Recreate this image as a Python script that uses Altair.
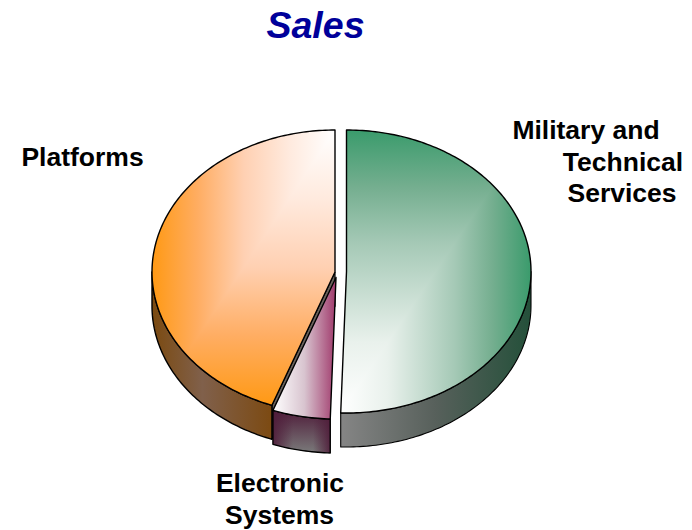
import math
import altair as alt
import pandas as pd

# Sales breakdown, percent of total, clockwise from twelve o'clock
segments = ["Military and Technical Services", "Electronic Systems", "Platforms"]
shares = [50.5, 5.1, 44.4]

title_text = ["Sales"]
label_lines = ["Platforms", "Military and", "Technical", "Services", "Electronic", "Systems"]

# Pie geometry in chart pixels
DEPTH = 34
GEOM = {
    "Military and Technical Services": dict(cx=346.5, cy=271.5, rx=184.5, ry=141.5),
    "Electronic Systems": dict(cx=336.0, cy=277.5, rx=183, ry=141.5),
    "Platforms": dict(cx=335.0, cy=272.0, rx=183, ry=142.0),
}

# White-to-colour ramps for the top faces
GREEN_RAMP = [(0, "#ffffff"), (0.25, "#e9f1ec"), (0.6, "#a5c9b6"), (0.8, "#74ae8f"), (1, "#3a9b6c")]
ORANGE_RAMP = [(0, "#ffffff"), (0.25, "#ffeade"), (0.5, "#ffd0b2"), (0.75, "#ffad62"), (1, "#ff9914")]
MAROON_RAMP = [(0, "#ffffff"), (0.5, "#d8c4cf"), (1, "#a03a6c")]


def rim(g, a0, a1, dy=0.0):
    n = max(2, int(abs(a1 - a0)) + 1)
    pts = []
    for i in range(n + 1):
        a = math.radians(a0 + (a1 - a0) * i / n)
        pts.append([g["cx"] + g["rx"] * math.sin(a), g["cy"] - g["ry"] * math.cos(a) + dy])
    return pts


def clip(poly, p, q, keep_left):
    """Clip a polygon by the half-plane on one side of the line p-q."""
    def side_of(pt):
        s = (q[0] - p[0]) * (pt[1] - p[1]) - (q[1] - p[1]) * (pt[0] - p[0])
        return s if keep_left else -s

    out = []
    for i, a in enumerate(poly):
        b = poly[(i + 1) % len(poly)]
        sa, sb = side_of(a), side_of(b)
        if sa >= 0:
            out.append(a)
        if sa * sb < 0:
            t = sa / (sa - sb)
            out.append([a[0] + (b[0] - a[0]) * t, a[1] + (b[1] - a[1]) * t])
    return out


def feature(poly):
    ring = [list(pt) for pt in poly] + [list(poly[0])]
    return {"type": "Feature", "properties": {}, "geometry": {"type": "Polygon", "coordinates": [ring]}}


def bbox(poly):
    xs, ys = [p[0] for p in poly], [p[1] for p in poly]
    return min(xs), min(ys), max(xs), max(ys)


def shape(poly, **mark):
    return alt.Chart(alt.Data(values=[feature(poly)])).mark_geoshape(**mark)


def grad(stops, x1, y1, x2, y2):
    return alt.LinearGradient(
        gradient="linear", x1=x1, y1=y1, x2=x2, y2=y2,
        stops=[alt.GradientStop(offset=o, color=c) for o, c in stops],
    )


def corner_fill(poly, corner, far, stops):
    """Rectangular ramp spreading out from one corner of the box corner-far,
    painted as two pieces that meet on the box diagonal."""
    layers = []
    # The first piece runs slightly past the diagonal so no seam shows
    overlap = -2.0 if far[0] > corner[0] else 2.0
    for keep_left, horizontal, nudge in ((True, True, overlap), (False, False, 0.0)):
        p = [corner[0], corner[1] + nudge]
        q = [far[0], far[1] + nudge]
        piece = clip(poly, p, q, keep_left)
        x0, y0, x1, y1 = bbox(piece)
        if horizontal:
            a = (corner[0] - x0) / (x1 - x0)
            b = (far[0] - x0) / (x1 - x0)
            fill = grad(stops, a, 0, b, 0)
        else:
            a = (corner[1] - y0) / (y1 - y0)
            b = (far[1] - y0) / (y1 - y0)
            fill = grad(stops, 0, a, 0, b)
        layers.append(shape(piece, fill=fill, strokeWidth=0))
    return layers


# Slice angles from the shares
angles, start = {}, 0.0
for name, s in zip(segments, shares):
    angles[name] = (start, start + s * 3.6)
    start += s * 3.6

mil, ele, pla = segments
gm, ge, gp = GEOM[mil], GEOM[ele], GEOM[pla]

top_mil = [[gm["cx"], gm["cy"]]] + rim(gm, *angles[mil])
top_ele = [[ge["cx"], ge["cy"]]] + rim(ge, *angles[ele])
top_pla = [[gp["cx"], gp["cy"]]] + rim(gp, *angles[pla])


def side(g, a0, a1):
    return rim(g, a0, a1) + rim(g, a1, a0, DEPTH)


side_mil = side(gm, 90, angles[mil][1])
side_ele = side(ge, *angles[ele])
side_pla = side(gp, angles[pla][0], 270)

rim_end = rim(gp, angles[pla][0], angles[pla][0])[0]
cut_pla = [[gp["cx"], gp["cy"]], rim_end, [rim_end[0], rim_end[1] + DEPTH], [gp["cx"], gp["cy"] + DEPTH]]

OUTLINE = dict(filled=False, stroke="#000000", strokeWidth=1.4, strokeJoin="round")

layers = [
    shape(cut_pla, fill="#6a625c", stroke="#000000", strokeWidth=1.2),
    shape(side_pla, fill=grad([(0, "#7b4a10"), (0.42, "#80604b"), (1, "#7c4a12")], 0, 0, 1, 0)),
    shape(side_pla, **OUTLINE),
    shape(side_mil, fill=grad([(0, "#858585"), (0.5, "#57605b"), (1, "#24503a")], 0, 0, 1, 0)),
    shape(side_mil, **{**OUTLINE, "strokeWidth": 1.1}),
    shape(side_ele, fill=grad([(0, "#4f1d3a"), (1, "#7a7a7a")], 0, 0, 0, 1)),
    shape(side_ele, fill=grad([(0, "rgba(79,29,58,0.9)"), (0.35, "rgba(79,29,58,0)"),
                               (0.7, "rgba(79,29,58,0)"), (1, "rgba(79,29,58,0.9)")], 0, 0, 1, 0)),
    shape(side_ele, **OUTLINE),
]

layers += corner_fill(top_pla, [gp["cx"], 130.0], [gp["cx"] - gp["rx"], 405.0], ORANGE_RAMP)
layers.append(shape(top_pla, **OUTLINE))

layers += corner_fill(top_mil, [340.0, 413.0], [gm["cx"] + gm["rx"], 130.0], GREEN_RAMP)
layers.append(shape(top_mil, **OUTLINE))

layers.append(shape(top_ele, fill=grad(MAROON_RAMP, 0, 0, 1, 0)))
layers.append(shape(top_ele, **OUTLINE))

# Text sits on fixed pixel anchors, one line per mark
FONT = "Liberation Sans"
LABEL_ANCHORS = [(82.5, 158), (586, 131), (623, 163), (622, 194), (280, 484), (279.5, 516)]


def text_mark(text, x, y, size, colour, italic=False):
    return (
        alt.Chart(pd.DataFrame({"label": [text]}))
        .mark_text(font=FONT, fontSize=size, fontWeight="bold", fontStyle="italic" if italic else "normal",
                   color=colour, align="center", baseline="middle")
        .encode(text="label:N", x=alt.value(x), y=alt.value(y))
    )


layers.append(text_mark(title_text[0], 315.5, 27, 37.5, "#00009a", italic=True))
for line, (x, y) in zip(label_lines, LABEL_ANCHORS):
    layers.append(text_mark(line, x, y, 26.5, "#000000"))

chart = (
    alt.layer(*layers)
    .project(type="identity", scale=1, translate=[0, 0])
    .properties(width=692, height=530, padding=0, autosize=alt.AutoSizeParams(type="none"), background="#ffffff")
    .configure_view(stroke=None)
)

chart.save("out.html", embed_options={"renderer": "svg", "actions": False})
